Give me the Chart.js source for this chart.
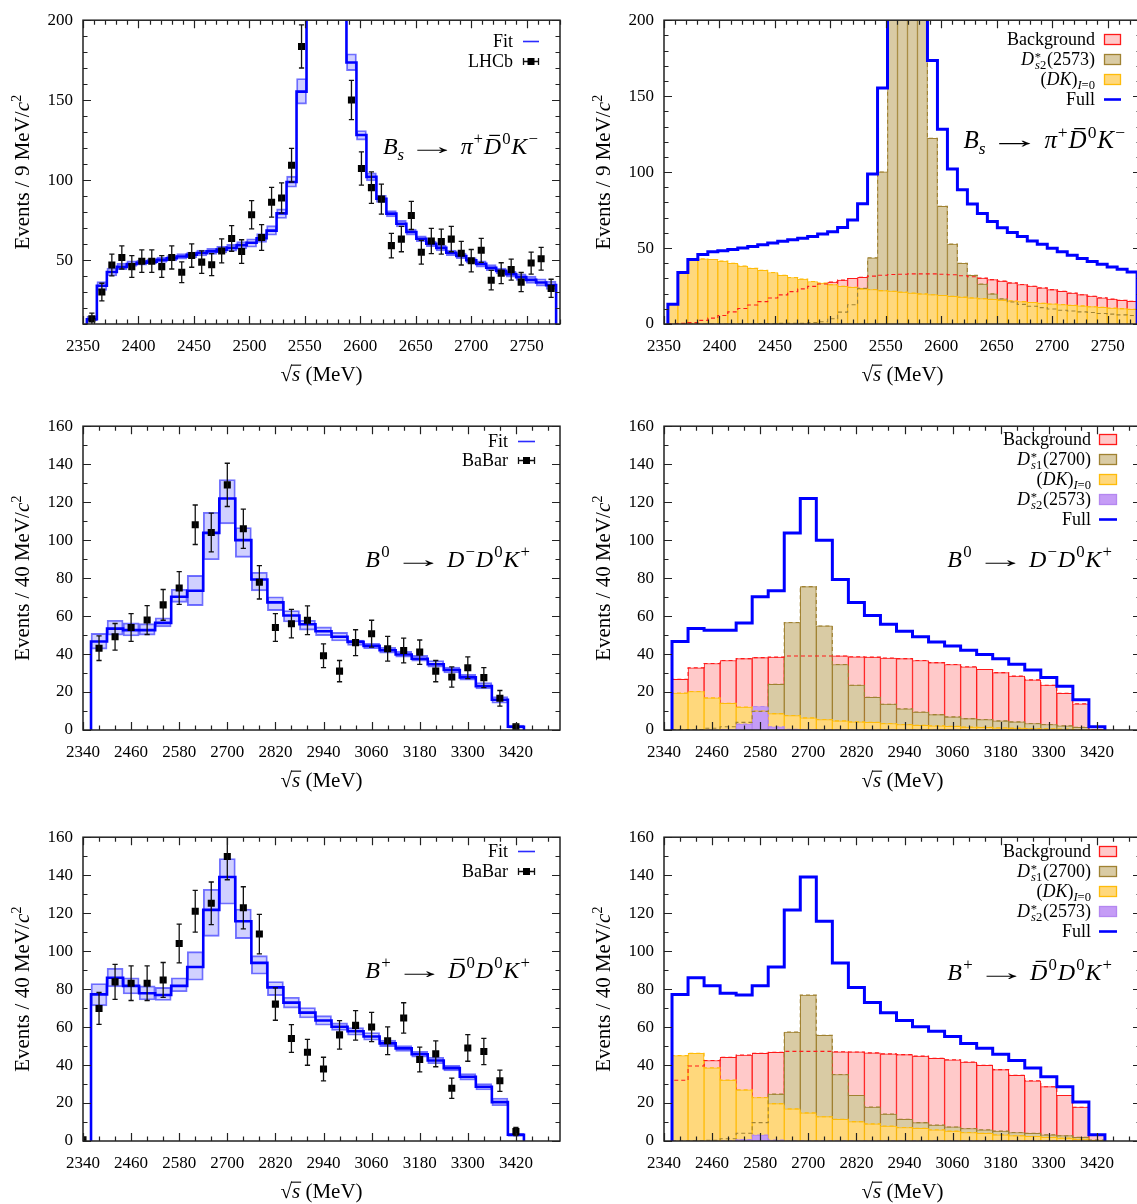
<!DOCTYPE html>
<html><head><meta charset="utf-8">
<script src="https://cdn.jsdelivr.net/npm/chart.js@4.4.1/dist/chart.umd.min.js"></script>
<style>
html,body{margin:0;padding:0;background:#fff;overflow:hidden;}
body{position:relative;width:1137px;height:1204px;}
canvas{position:absolute;}
</style></head>
<body>
<canvas id="c1" width="570" height="400" style="left:0px;top:0px"></canvas>
<canvas id="c2" width="570" height="400" style="left:581px;top:0px"></canvas>
<canvas id="c3" width="570" height="400" style="left:0px;top:406px"></canvas>
<canvas id="c4" width="570" height="400" style="left:581px;top:406px"></canvas>
<canvas id="c5" width="570" height="400" style="left:0px;top:817px"></canvas>
<canvas id="c6" width="570" height="400" style="left:581px;top:817px"></canvas>
<script>
// ================= DATA =================
// --- B_s -> pi+ Dbar0 K- (LHCb), 9 MeV bins ---
const bsBinStart = 2353.5, bsBinWidth = 9, bsDataStart = 2358;
const bsXTicks = [2350, 2400, 2450, 2500, 2550, 2600, 2650, 2700, 2750];
const bsYTicksFit = [50, 100, 150, 200];
const bsYTicksComp = [0, 50, 100, 150, 200];
const bsData = [13.2, 30, 46.9, 51.6, 45.9, 49.3, 49.3, 45.9, 51.6, 42.4, 52.8, 48.7, 47.1, 55.7, 63.5, 55.3, 78.3, 64.1, 86.1, 88.8, 109.3, 183.6,
  null, null, null, null,
  150.1, 107.2, 95.3, 88.1, 59, 63.1, 77.9, 54.9, 61.9, 61.5, 63.1, 54.3, 49.6, 56.1, 37.4, 41.8, 44, 36.2, 48.1, 50.8, 32.3];
const bsErr = [3.6, 5.5, 6.8, 7.2, 6.8, 7, 7, 6.8, 7.2, 6.5, 7.3, 7, 6.9, 7.5, 8, 7.4, 8.8, 8, 9.3, 9.4, 10.5, 13.5,
  null, null, null, null,
  12.3, 10.4, 9.8, 9.4, 7.7, 7.9, 8.8, 7.4, 7.9, 7.8, 7.9, 7.4, 7, 7.5, 6.1, 6.5, 6.6, 6, 6.9, 7.1, 5.7];
const bsFit = [13, 33.9, 42.5, 45.7, 47.5, 48.3, 49, 50.1, 51.1, 52.2, 53.3, 54.4, 55.4, 56.5, 57.6, 59.3, 60.8, 63.6, 68.4, 79.2, 98.8, 155.3,
  270, 420, 400, 260,
  173.5, 128.2, 102, 88.3, 79, 72.7, 67.5, 63.3, 60.2, 57.6, 54.6, 52.5, 49.9, 47.6, 45.2, 43.2, 41.2, 39.3, 37.6, 36, 34.3];
const bsBandLo = [12, 31, 40, 44, 46, 46.8, 47.5, 48.5, 49.5, 50.5, 51.5, 52.5, 53.5, 54.5, 55.5, 57, 58, 61, 65.5, 76, 95.5, 147.5,
  255, 400, 380, 245,
  168.5, 125, 99.5, 86, 77, 70.7, 65.6, 61.5, 58.4, 55.7, 52.8, 50.8, 48.1, 45.6, 43.4, 41.3, 39.3, 37.2, 35.4, 33.7, 31.7];
const bsBandHi = [15, 36.5, 45, 48, 49.5, 50, 50.8, 51.8, 52.8, 54, 55, 56.2, 57.3, 58.5, 59.8, 61.5, 63.3, 66.5, 71.5, 82, 102.5, 163.5,
  285, 440, 420, 275,
  179, 131, 104.5, 90.5, 81, 74.8, 69.3, 65.2, 61.9, 59.4, 56.3, 54.3, 51.6, 49.5, 47.1, 45, 43, 41.3, 39.9, 38.3, 36.8];
const bsBkg = [0.2, 0.5, 0.9, 2.4, 3.9, 5.6, 8.0, 10.2, 12.5, 14.7, 17.1, 19.2, 21.3, 23.1, 24.8, 26.3, 27.6, 28.9, 30, 30.8, 31.5, 32.1,
  32.6, 32.8, 33.0, 33.0, 33.0, 32.8, 32.4, 31.8, 31.1, 30.2, 29.2, 28.2, 27.1, 26.0, 24.9, 23.8, 22.6, 21.5, 20.4, 19.3, 18.3, 17.3, 16.4, 15.6, 14.9];
const bsD2 = [0, 0, 0, 0, 0, 0, 0, 0, 0.2, 0.3, 0.3, 0.4, 0.5, 0.5, 1.0, 1.5, 3.5, 7.8, 12.7, 23.5, 43.6, 100.1,
  240, 330, 320, 230,
  122.3, 77.5, 52.6, 39.9, 32.1, 26.3, 19.8, 16.6, 14.5, 12.9, 11.7, 10.8, 9.9, 9.1, 8.6, 8.0, 7.6, 6.9, 6.5, 6.0, 5.6];
const bsDK = [12.9, 33.9, 42.5, 42.9, 42.5, 41.4, 39.9, 38.2, 36.7, 35.4, 33.9, 32.1, 30.6, 29.6, 28, 27, 25.9, 24.8, 24.2, 23.1, 22.7, 22,
  21.6, 21.0, 20.4, 19.8, 19.3, 18.8, 18.2, 17.7, 17.2, 16.7, 16.2, 15.7, 15.2, 14.7, 14.2, 13.7, 13.2, 12.8, 12.3, 11.9, 11.4, 11.0, 10.5, 10.1, 9.7];

// --- 40 MeV bins for B0 and B+ ---
const bBinStart = 2360, bBinWidth = 40;
const bXTicks = [2340, 2460, 2580, 2700, 2820, 2940, 3060, 3180, 3300, 3420];
const bYTicks = [0, 20, 40, 60, 80, 100, 120, 140, 160];

// --- B0 -> D- D0 K+ (BaBar) ---
const b0DataStart = 2380;
const b0Data = [43.1, 49.1, 54, 57.9, 65.9, 74.8, 108.1, 104, 129.1, 106, 77.8, 54, 56, 57.8, 39.1, 31, 46, 50.7, 42.8, 41.9, 41, 31, 27.9, 32.8, 27.6, 16.7, 1.7];
const b0Err = [6.5, 7, 7.3, 7.6, 8.1, 8.6, 10.4, 10.2, 11.4, 10.3, 8.8, 7.3, 7.5, 7.6, 6.3, 5.6, 6.8, 7.1, 6.5, 6.5, 6.4, 5.6, 5.3, 5.7, 5.3, 4.1, 1.3];
const b0Fit = [46.6, 53.4, 52.6, 52.6, 56.4, 70.2, 73.3, 103.8, 121.9, 100, 79.3, 67.2, 60.3, 55.7, 52, 49.1, 46.4, 44.3, 42, 39.8, 37.5, 34.6, 31.6, 27.7, 23.1, 15.9, 1.7];
const b0BandLo = [42.6, 50, 49.5, 50, 54.3, 67.2, 65.5, 89.7, 108.6, 90.9, 73.3, 62.9, 56.9, 52.6, 49.7, 46.9, 44.5, 42.8, 40.5, 38.3, 36.2, 33.1, 30, 26.2, 21.6, 14.1, 0.9];
const b0BandHi = [50.9, 57.8, 56.4, 56, 59.1, 74.1, 81.4, 114.7, 131.9, 106.6, 83.1, 70.2, 62.9, 57.8, 54.3, 51.4, 47.4, 45.7, 43.6, 41.4, 39.3, 36.6, 33.1, 29.3, 25, 17.6, 2.6];
const b0Bkg = [26.7, 32.8, 35, 36.6, 37.6, 38.1, 38.4, 39, 39, 39, 39, 38.6, 38.4, 37.9, 37.6, 36.6, 35.5, 34.5, 33.3, 31.9, 30.2, 28.4, 26.4, 23.6, 19.3, 13.8, 0.3];
const b0D1 = [0.2, 0.3, 0.9, 1.7, 4, 9.8, 24.1, 56.6, 75.5, 54.8, 34.5, 23.6, 17.2, 13.6, 11.2, 9.5, 8.1, 6.9, 6, 5.5, 4.8, 4.3, 3.4, 2.9, 2.2, 1.4, 0.3];
const b0DK = [19.5, 20.3, 16.9, 14.1, 12.1, 10, 8.6, 7.6, 6.4, 5.5, 4.8, 4.3, 4, 3.4, 2.9, 2.5, 2.2, 1.9, 1.6, 1.4, 1.2, 1.0, 0.8, 0.6, 0.5, 0.3, 0.1];
const b0D2 = [0, 0, 0, 0.3, 3.1, 12.4, 1.7, 0.4, 0.1, 0, 0, 0, 0, 0, 0, 0, 0, 0, 0, 0, 0, 0, 0, 0, 0, 0, 0];

// --- B+ -> Dbar0 D0 K+ (BaBar) ---
const bpDataStart = 2340;
const bpData = [0.7, 69.8, 83.8, 83.1, 83.1, 84.8, 104, 121, 125.2, 149.8, 122.8, 109, 72.1, 54, 46.7, 37.9, 55.9, 60.9, 60, 52.8, 64.8, 42.9, 45.9, 27.8, 49, 47.1, 31.7, 5];
const bpErr = [0.8, 8.4, 9.2, 9.1, 9.1, 9.2, 10.2, 11, 11.2, 12.2, 11.1, 10.4, 8.5, 7.3, 6.8, 6.2, 7.5, 7.8, 7.7, 7.3, 8, 6.5, 6.8, 5.3, 7, 6.9, 5.6, 2.2];
const bpFit = [77.2, 86, 81.7, 77.8, 76.9, 81.7, 91.6, 121.7, 139, 115.7, 93.8, 80.9, 72.9, 67.6, 63.5, 60.2, 57.8, 55, 51.4, 48.8, 45.7, 42.4, 38.4, 33.8, 28.6, 20.5, 3.3];
const bpBandLo = [71.2, 81.2, 77.4, 74.3, 74, 78.6, 84.7, 107.8, 124.7, 106.6, 87.8, 76.6, 70, 64.8, 61, 58.3, 55.7, 53.1, 49.7, 47.2, 44.1, 40.7, 36.9, 32.1, 26.9, 18.6, 2.4];
const bpBandHi = [82.9, 91, 86, 81.7, 80.9, 86, 99.7, 132.6, 148.8, 122.2, 97.6, 84, 75.7, 70.3, 66, 62.2, 59.7, 57.1, 53.1, 50.2, 47.2, 44.1, 39.8, 35.5, 30.3, 22.6, 4.1];
const bpBkg = [32, 39.5, 42.4, 44.1, 45.3, 46.2, 46.7, 47.2, 47.2, 47.2, 47, 46.9, 46.4, 45.9, 45.5, 44.7, 43.6, 42.8, 41.6, 39.9, 37.6, 34.6, 31.7, 28.6, 24, 17.8, 3.1];
const bpD1 = [0, 0.1, 0.4, 1.2, 4.1, 9.7, 24.7, 57.4, 76.9, 55.7, 35, 24, 17.9, 14.2, 11.4, 9.7, 8.4, 7.4, 6.6, 5.9, 5.2, 4.5, 4, 3.3, 2.8, 1.9, 0.5];
const bpDK = [45, 46.2, 38.6, 32.1, 26.9, 22.9, 19.7, 16.9, 14.8, 12.8, 11.4, 10.2, 9, 7.9, 7.1, 6.7, 5.9, 5.2, 4.5, 4, 3.3, 2.8, 2.4, 1.9, 1.6, 1, 0.3];
const bpD2 = [0, 0, 0, 0, 0.8, 3.1, 0.5, 0, 0, 0, 0, 0, 0, 0, 0, 0, 0, 0, 0, 0, 0, 0, 0, 0, 0, 0, 0];

// ================= STYLE =================
const SERIF = '"Liberation Serif", "Times New Roman", serif';
Chart.defaults.font.family = SERIF;
Chart.defaults.color = '#000';
const BLUE = '#0000ff';
const COL = {
  bkg: { fill: '#ffc9c9', stroke: '#ff1a1a' },
  d1:  { fill: '#d9cba4', stroke: '#a08232' },
  dk:  { fill: '#ffd87c', stroke: '#ffbc0a' },
  d2:  { fill: '#c59cf6', stroke: '#b487f0' }
};

// ================= TEXT TOKENS =================
const T = (t, o) => Object.assign({ t }, o || {});
const ARROW = { pl: 0.12, pr: 0.14, sx: 2.1 };
const lblBkg = [T('Background')];
const lblD2 = [T('D', { it: 1 }), T('*', { sup: 1, na: 1, dy: -0.2, pl: 0.04 }), T('s', { sub: 1, it: 1, pl: 0.02 }), T('2', { sub: 1, pr: 0.04 }), T('(2573)')];
const lblD1 = [T('D', { it: 1 }), T('*', { sup: 1, na: 1, dy: -0.2, pl: 0.04 }), T('s', { sub: 1, it: 1, pl: 0.02 }), T('1', { sub: 1, pr: 0.04 }), T('(2700)')];
const lblDK = [T('('), T('DK', { it: 1 }), T(')'), T('I', { sub: 1, it: 1 }), T('=0', { sub: 1 })];
const lblFull = [T('Full')], lblFit = [T('Fit')], lblLHCb = [T('LHCb')], lblBaBar = [T('BaBar')];
const rxBs = [T('B', { it: 1 }), T('s', { sub: 1, it: 1 }), T('\u2192', ARROW), T('\u03c0', { it: 1 }), T('+', { sup: 1, pl: 0.03, pr: 0.03 }),
  T('D', { it: 1, bar: 1 }), T('0', { sup: 1, pl: 0.05, pr: 0.03 }), T('K', { it: 1 }), T('\u2212', { sup: 1, pl: 0.05 })];
const rxB0 = [T('B', { it: 1 }), T('0', { sup: 1, pl: 0.05, pr: 0.03 }), T('\u2192', ARROW), T('D', { it: 1 }), T('\u2212', { sup: 1, pl: 0.05, pr: 0.03 }),
  T('D', { it: 1 }), T('0', { sup: 1, pl: 0.05, pr: 0.03 }), T('K', { it: 1 }), T('+', { sup: 1, pl: 0.05 })];
const rxBp = [T('B', { it: 1 }), T('+', { sup: 1, pl: 0.05, pr: 0.03 }), T('\u2192', ARROW), T('D', { it: 1, bar: 1 }), T('0', { sup: 1, pl: 0.05, pr: 0.03 }),
  T('D', { it: 1 }), T('0', { sup: 1, pl: 0.05, pr: 0.03 }), T('K', { it: 1 }), T('+', { sup: 1, pl: 0.05 })];

function fnt(size, it) { return (it ? 'italic ' : '') + size.toFixed(2) + 'px ' + SERIF; }
function layoutRich(ctx, toks, size) {
  let x = 0;
  const items = [];
  for (const t of toks) {
    const s = (t.sub || t.sup) ? size * 0.7 : size;
    ctx.font = fnt(s, t.it);
    const sx = t.sx || 1;
    const w = ctx.measureText(t.t).width * sx;
    x += (t.pl || 0) * size;
    const dy = (t.dy !== undefined) ? t.dy * size : (t.sub ? size * 0.24 : (t.sup ? -size * 0.42 : 0));
    items.push({ t, s, x, dy, w, sx });
    if (!t.na) x += w + (t.pr || 0) * size;
  }
  return { items, width: x };
}
function richWidth(ctx, toks, size) { return layoutRich(ctx, toks, size).width; }
function drawRich(ctx, toks, x0, y0, size, color) {
  const L = layoutRich(ctx, toks, size);
  ctx.fillStyle = color || '#000'; ctx.textBaseline = 'alphabetic'; ctx.textAlign = 'left';
  for (const it of L.items) {
    ctx.font = fnt(it.s, it.t.it);
    const x = x0 + it.x, y = y0 + it.dy;
    if (it.sx !== 1) {
      ctx.save(); ctx.translate(x, y); ctx.scale(it.sx, 1); ctx.fillText(it.t.t, 0, 0); ctx.restore();
    } else {
      ctx.fillText(it.t.t, x, y);
    }
    if (it.t.bar) ctx.fillRect(x + it.w * 0.32, y0 - size * 0.8, it.w * 0.62, Math.max(1, size * 0.05));
    if (it.t.over) ctx.fillRect(x - 1, y0 - size * 0.78, it.w + 2, 1.1);
  }
}

// ================= HELPERS =================
function stepPoints(start, width, vals, base) {
  const pts = [{ x: start, y: base }];
  vals.forEach((v, i) => pts.push({ x: start + i * width, y: v }));
  pts.push({ x: start + vals.length * width, y: vals[vals.length - 1] });
  pts.push({ x: start + vals.length * width, y: base });
  return pts;
}
function fitDatasets(binStart, binWidth, fit, lo, hi, dataStart, data, err, base) {
  return [
    { type: 'line', data: data.map((v, i) => ({ x: dataStart + i * binWidth, y: v })), showLine: false,
      pointStyle: 'rect', pointRadius: 5, pointBackgroundColor: '#000', pointBorderColor: '#000', pointBorderWidth: 0,
      errs: err, order: 0 },
    { type: 'line', data: stepPoints(binStart, binWidth, fit, base), stepped: 'before', borderColor: BLUE,
      borderWidth: 2.6, pointRadius: 0, fill: false, order: 1 },
    { type: 'bar', data: fit.map((_, i) => ({ x: binStart + (i + 0.5) * binWidth, y: [lo[i], hi[i]] })),
      backgroundColor: 'rgba(40,40,255,0.22)', borderColor: 'rgba(0,0,255,0.55)', borderWidth: 1.2, borderSkipped: false,
      grouped: false, barPercentage: 1, categoryPercentage: 1, order: 2 }
  ];
}
function compDatasets(binStart, binWidth, full, comps) {
  const ds = [{ type: 'line', data: stepPoints(binStart, binWidth, full, 0), stepped: 'before', borderColor: BLUE,
    borderWidth: 3, pointRadius: 0, fill: false, order: 0 }];
  comps.forEach(c => {
    ds.push({ type: 'bar', data: c.vals.map((v, i) => ({ x: binStart + (i + 0.5) * binWidth, y: v })),
      backgroundColor: c.col.fill, borderColor: c.col.stroke, borderWidth: 1, borderSkipped: 'start',
      grouped: false, barPercentage: 1, categoryPercentage: 1, order: c.z });
    ds.push({ type: 'line', data: stepPoints(binStart, binWidth, c.vals, 0), stepped: 'before',
      borderColor: c.col.stroke, borderWidth: 1.1, borderDash: [4, 3], pointRadius: 0, fill: false, order: 1 });
  });
  return ds;
}

// ================= PANEL CONFIG =================
const cfg = {
  c1: { xMin: 2350, xMax: 2780, yMin: 10, yMax: 200, xTicks: bsXTicks, yTicks: bsYTicksFit, xMinor: 10, yMinor: 10, yMajor: 50, binLabel: '9',
        leg: { right: 513, symX: 523, symW: 16, size: 18, rows: [{ b: 47, lab: lblFit, sym: 'fit' }, { b: 67, lab: lblLHCb, sym: 'err' }] },
        rx: { toks: rxBs, right: 538, base: 154, size: 24 } },
  c2: { xMin: 2350, xMax: 2780, yMin: 0, yMax: 200, xTicks: bsXTicks, yTicks: bsYTicksComp, xMinor: 10, yMinor: 10, yMajor: 50, binLabel: '9',
        leg: { right: 514, symX: 523, symW: 17, size: 18, rows: [
          { b: 45, lab: lblBkg, sym: 'box', col: COL.bkg }, { b: 65, lab: lblD2, sym: 'box', col: COL.d1 },
          { b: 85, lab: lblDK, sym: 'box', col: COL.dk }, { b: 105, lab: lblFull, sym: 'full' }] },
        rx: { toks: rxBs, right: 544, base: 148, size: 25 } },
  c3: { xMin: 2340, xMax: 3530, yMin: 0, yMax: 160, xTicks: bXTicks, yTicks: bYTicks, xMinor: 40, yMinor: 10, yMajor: 20, binLabel: '40',
        leg: { right: 508, symX: 518, symW: 17, size: 18, rows: [{ b: 41, lab: lblFit, sym: 'fit' }, { b: 60, lab: lblBaBar, sym: 'err' }] },
        rx: { toks: rxB0, right: 530, base: 161, size: 24 } },
  c4: { xMin: 2340, xMax: 3530, yMin: 0, yMax: 160, xTicks: bXTicks, yTicks: bYTicks, xMinor: 40, yMinor: 10, yMajor: 20, binLabel: '40',
        leg: { right: 510, symX: 518, symW: 18, size: 18, rows: [
          { b: 39, lab: lblBkg, sym: 'box', col: COL.bkg }, { b: 59, lab: lblD1, sym: 'box', col: COL.d1 },
          { b: 79, lab: lblDK, sym: 'box', col: COL.dk }, { b: 99, lab: lblD2, sym: 'box', col: COL.d2 },
          { b: 119, lab: lblFull, sym: 'full' }] },
        rx: { toks: rxB0, right: 531, base: 161, size: 24 } },
  c5: { xMin: 2340, xMax: 3530, yMin: 0, yMax: 160, xTicks: bXTicks, yTicks: bYTicks, xMinor: 40, yMinor: 10, yMajor: 20, binLabel: '40',
        leg: { right: 508, symX: 518, symW: 17, size: 18, rows: [{ b: 40, lab: lblFit, sym: 'fit' }, { b: 60, lab: lblBaBar, sym: 'err' }] },
        rx: { toks: rxBp, right: 530, base: 161, size: 24 } },
  c6: { xMin: 2340, xMax: 3530, yMin: 0, yMax: 160, xTicks: bXTicks, yTicks: bYTicks, xMinor: 40, yMinor: 10, yMajor: 20, binLabel: '40',
        leg: { right: 510, symX: 518, symW: 18, size: 18, rows: [
          { b: 40, lab: lblBkg, sym: 'box', col: COL.bkg }, { b: 60, lab: lblD1, sym: 'box', col: COL.d1 },
          { b: 80, lab: lblDK, sym: 'box', col: COL.dk }, { b: 100, lab: lblD2, sym: 'box', col: COL.d2 },
          { b: 120, lab: lblFull, sym: 'full' }] },
        rx: { toks: rxBp, right: 531, base: 163, size: 24 } }
};

// ================= DECORATION PLUGIN =================
function isMajor(v, list) { return list.some(m => Math.abs(m - v) < 1e-6); }
const decor = {
  id: 'decor',
  afterDatasetsDraw(chart) {
    const ctx = chart.ctx, xs = chart.scales.x, ys = chart.scales.y, a = chart.chartArea;
    ctx.save();
    ctx.beginPath(); ctx.rect(a.left, a.top, a.right - a.left, a.bottom - a.top); ctx.clip();
    ctx.strokeStyle = '#111'; ctx.lineWidth = 1.3;
    chart.data.datasets.forEach(ds => {
      if (!ds.errs) return;
      ds.data.forEach((p, i) => {
        const e = ds.errs[i];
        if (p.y === null || e === null || e === undefined) return;
        const px = xs.getPixelForValue(p.x);
        const y1 = ys.getPixelForValue(p.y - e), y2 = ys.getPixelForValue(p.y + e);
        ctx.beginPath();
        ctx.moveTo(px, y1); ctx.lineTo(px, y2);
        ctx.moveTo(px - 2.6, y1); ctx.lineTo(px + 2.6, y1);
        ctx.moveTo(px - 2.6, y2); ctx.lineTo(px + 2.6, y2);
        ctx.stroke();
      });
    });
    ctx.restore();
  },
  afterDraw(chart) {
    const o = cfg[chart.canvas.id];
    const ctx = chart.ctx, xs = chart.scales.x, ys = chart.scales.y, a = chart.chartArea;
    ctx.save();
    // inward ticks on all four sides
    ctx.strokeStyle = '#222'; ctx.lineWidth = 1.2; ctx.beginPath();
    const k0 = Math.ceil((o.xMin - o.xTicks[0]) / o.xMinor - 1e-9);
    for (let k = k0; ; k++) {
      const v = o.xTicks[0] + k * o.xMinor;
      if (v > o.xMax + 1e-9) break;
      const px = Math.round(xs.getPixelForValue(v)) + 0.5;
      const L = isMajor(v, o.xTicks) ? 8 : 4.5;
      ctx.moveTo(px, a.bottom); ctx.lineTo(px, a.bottom - L);
      ctx.moveTo(px, a.top); ctx.lineTo(px, a.top + L);
    }
    for (let k = 0; ; k++) {
      const v = o.yMin + k * o.yMinor;
      if (v > o.yMax + 1e-9) break;
      const py = Math.round(ys.getPixelForValue(v)) + 0.5;
      const L = (Math.abs(v / o.yMajor - Math.round(v / o.yMajor)) < 1e-6) ? 8 : 4.5;
      ctx.moveTo(a.left, py); ctx.lineTo(a.left + L, py);
      ctx.moveTo(a.right, py); ctx.lineTo(a.right - L, py);
    }
    ctx.stroke();
    ctx.lineWidth = 1.5; ctx.strokeStyle = '#222';
    ctx.strokeRect(a.left, a.top, a.right - a.left, a.bottom - a.top);

    // legend
    const lg = o.leg;
    lg.rows.forEach(r => {
      const w = richWidth(ctx, r.lab, lg.size);
      drawRich(ctx, r.lab, lg.right - w, r.b, lg.size, '#000');
      const cy = r.b - 5.5, x1 = lg.symX, x2 = lg.symX + lg.symW;
      if (r.sym === 'fit') {
        ctx.strokeStyle = '#2b2bff'; ctx.lineWidth = 1.6;
        ctx.beginPath(); ctx.moveTo(x1, cy); ctx.lineTo(x2, cy); ctx.stroke();
      } else if (r.sym === 'full') {
        ctx.strokeStyle = BLUE; ctx.lineWidth = 2.6;
        ctx.beginPath(); ctx.moveTo(x1, cy); ctx.lineTo(x2, cy); ctx.stroke();
      } else if (r.sym === 'err') {
        ctx.strokeStyle = '#111'; ctx.lineWidth = 1.3;
        ctx.beginPath(); ctx.moveTo(x1, cy); ctx.lineTo(x2, cy);
        ctx.moveTo(x1 + 0.5, cy - 3.5); ctx.lineTo(x1 + 0.5, cy + 3.5);
        ctx.moveTo(x2 - 0.5, cy - 3.5); ctx.lineTo(x2 - 0.5, cy + 3.5); ctx.stroke();
        ctx.fillStyle = '#000'; ctx.fillRect((x1 + x2) / 2 - 3.5, cy - 3.5, 7, 7);
      } else if (r.sym === 'box') {
        ctx.fillStyle = r.col.fill; ctx.fillRect(x1, r.b - 11, lg.symW, 11);
        ctx.strokeStyle = r.col.stroke; ctx.lineWidth = 1.3; ctx.strokeRect(x1 + 0.5, r.b - 10.5, lg.symW - 1, 10);
      }
    });

    // reaction label
    const rw = richWidth(ctx, o.rx.toks, o.rx.size);
    drawRich(ctx, o.rx.toks, o.rx.right - rw, o.rx.base, o.rx.size, '#000');

    // axis titles
    const tsz = 21;
    const yT = [T('Events / ' + o.binLabel + ' MeV/'), T('c', { it: 1 }), T('2', { sup: 1 })];
    ctx.save();
    ctx.translate(a.left - 61, (a.top + a.bottom) / 2);
    ctx.rotate(-Math.PI / 2);
    const yw = richWidth(ctx, yT, tsz);
    drawRich(ctx, yT, -yw / 2, tsz * 0.35, tsz, '#000');
    ctx.restore();
    const xT = [T('\u221a'), T('s', { it: 1, over: 1 }), T(' (MeV)')];
    const xw = richWidth(ctx, xT, tsz);
    drawRich(ctx, xT, (a.left + a.right) / 2 - xw / 2, a.bottom + 57, tsz, '#000');
    ctx.restore();
  }
};

// ================= BUILD =================
function build(id, datasets) {
  const o = cfg[id];
  new Chart(document.getElementById(id), {
    type: 'bar',
    data: { datasets },
    options: {
      responsive: false, animation: false, devicePixelRatio: 1,
      layout: { padding: { top: 15, right: 10, left: 0, bottom: 0 } },
      plugins: { legend: { display: false }, tooltip: { enabled: false } },
      scales: {
        x: { type: 'linear', min: o.xMin, max: o.xMax, offset: false,
             grid: { display: false, drawTicks: false }, border: { display: false },
             afterBuildTicks: s => { s.ticks = o.xTicks.map(v => ({ value: v })); },
             afterFit: s => { s.height = 76; },
             ticks: { autoSkip: false, maxRotation: 0, minRotation: 0, padding: 12, color: '#000',
                      font: { size: 17, family: SERIF }, callback: v => String(v) } },
        y: { type: 'linear', min: o.yMin, max: o.yMax, beginAtZero: false,
             grid: { display: false, drawTicks: false }, border: { display: false },
             afterBuildTicks: s => { s.ticks = o.yTicks.map(v => ({ value: v })); },
             afterFit: s => { s.width = 83; },
             ticks: { autoSkip: false, padding: 10, color: '#000',
                      font: { size: 17, family: SERIF }, callback: v => String(v) } }
      }
    },
    plugins: [decor]
  });
}

build('c1', fitDatasets(bsBinStart, bsBinWidth, bsFit, bsBandLo, bsBandHi, bsDataStart, bsData, bsErr, 10));
build('c2', compDatasets(bsBinStart, bsBinWidth, bsFit, [
  { vals: bsBkg, col: COL.bkg, z: 8 }, { vals: bsD2, col: COL.d1, z: 7 }, { vals: bsDK, col: COL.dk, z: 6 }]));
build('c3', fitDatasets(bBinStart, bBinWidth, b0Fit, b0BandLo, b0BandHi, b0DataStart, b0Data, b0Err, 0));
build('c4', compDatasets(bBinStart, bBinWidth, b0Fit, [
  { vals: b0Bkg, col: COL.bkg, z: 8 }, { vals: b0D1, col: COL.d1, z: 7 }, { vals: b0DK, col: COL.dk, z: 6 }, { vals: b0D2, col: COL.d2, z: 5 }]));
build('c5', fitDatasets(bBinStart, bBinWidth, bpFit, bpBandLo, bpBandHi, bpDataStart, bpData, bpErr, 0));
build('c6', compDatasets(bBinStart, bBinWidth, bpFit, [
  { vals: bpBkg, col: COL.bkg, z: 8 }, { vals: bpD1, col: COL.d1, z: 7 }, { vals: bpDK, col: COL.dk, z: 6 }, { vals: bpD2, col: COL.d2, z: 5 }]));
</script>
</body></html>
